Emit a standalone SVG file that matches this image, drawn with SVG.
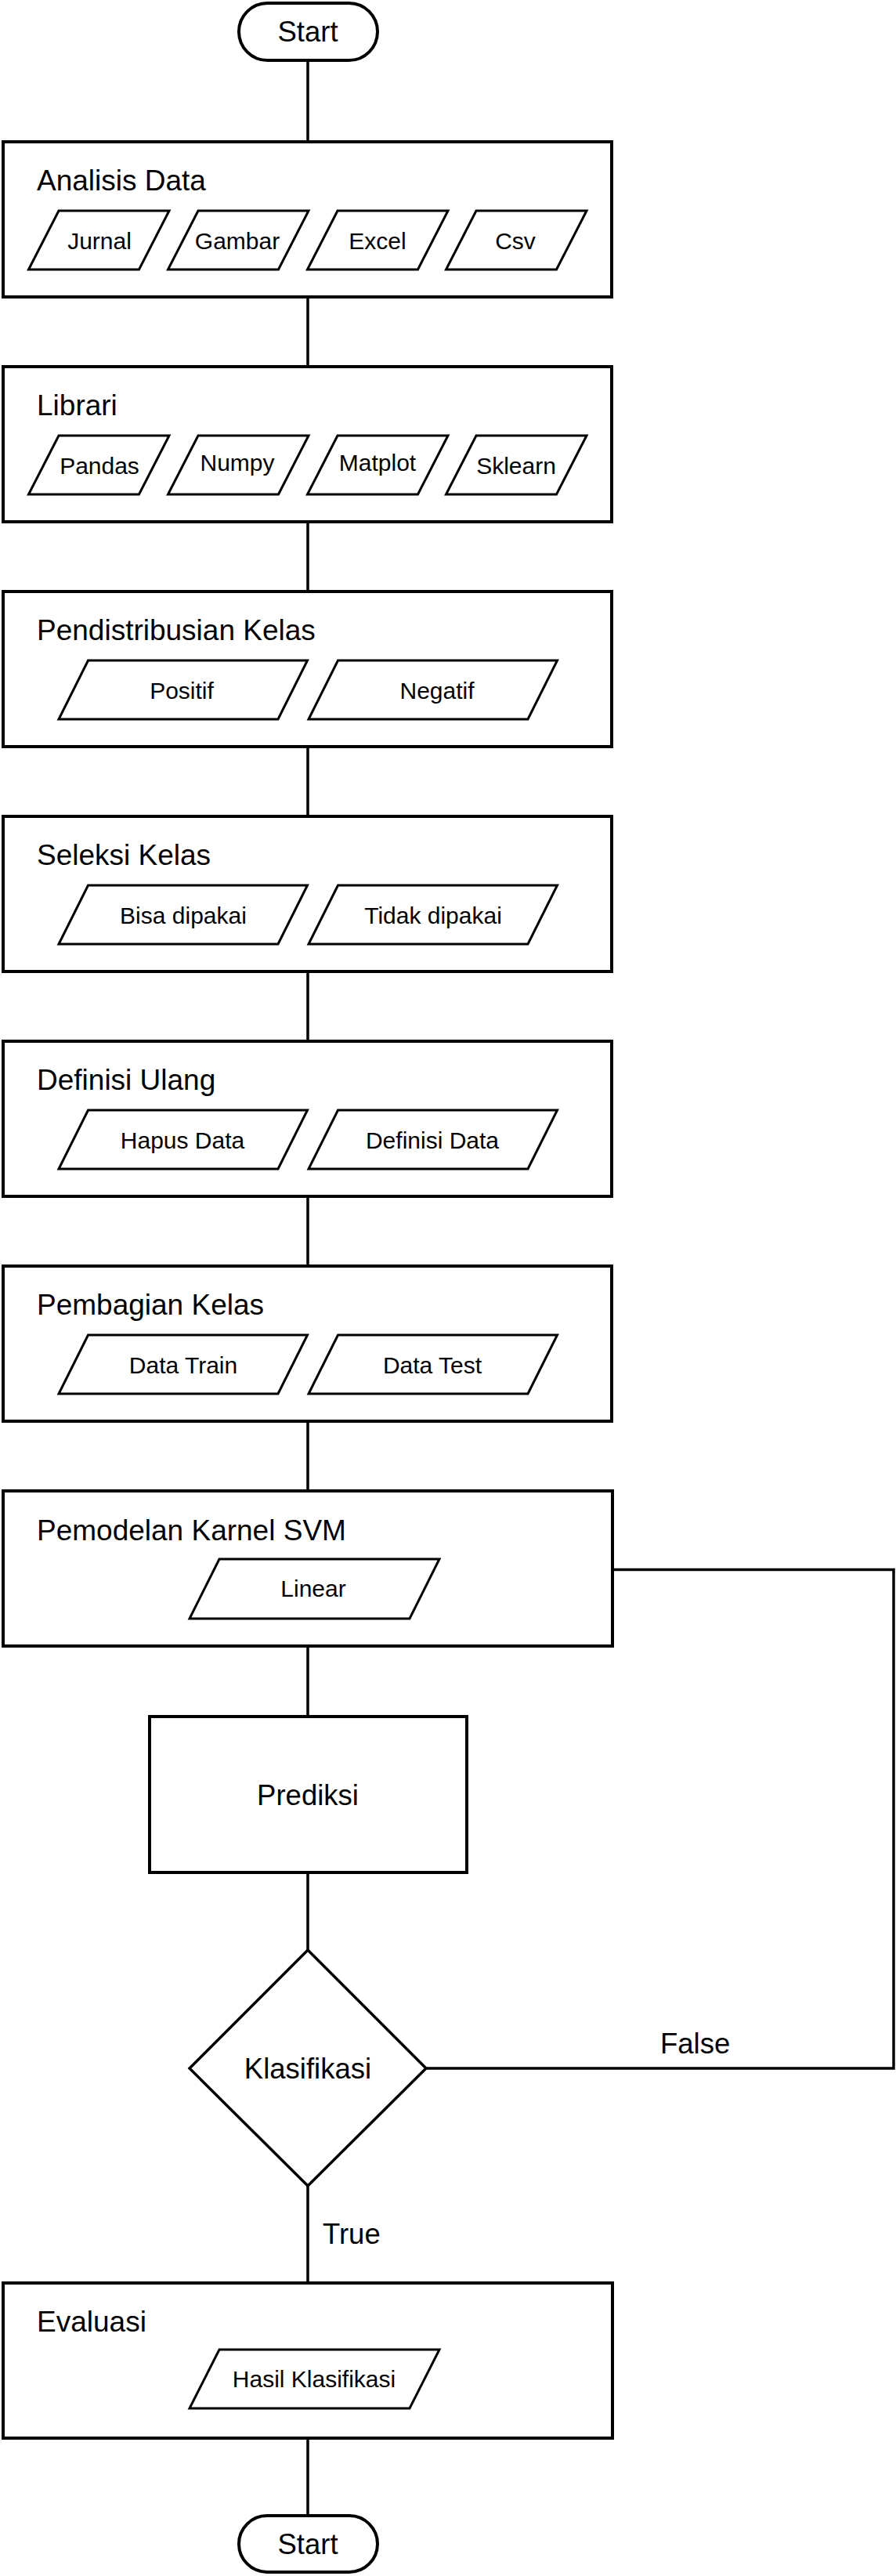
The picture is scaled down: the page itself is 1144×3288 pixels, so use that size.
<svg xmlns="http://www.w3.org/2000/svg" width="1144" height="3288" viewBox="0 0 1144 3288">
<style>
text{font-family:"Liberation Sans",Arial,sans-serif;fill:#000}
.big{font-size:37px}
.mid{font-size:36.5px}
.sm{font-size:30px}
.c{text-anchor:middle}
.box{fill:#fff;stroke:#000;stroke-width:4}
.para{fill:#fff;stroke:#000;stroke-width:3}
.term{fill:#fff;stroke:#000;stroke-width:4}
.dia{fill:#fff;stroke:#000;stroke-width:3.5}
.conn{fill:none;stroke:#000;stroke-width:3.5}
</style>
<rect width="1144" height="3288" fill="#fff"/>
<g id="connectors">
<path class="conn" d="M393 77V181"/>
<path class="conn" d="M393 379V468"/>
<path class="conn" d="M393 666V755"/>
<path class="conn" d="M393 953V1042"/>
<path class="conn" d="M393 1240V1329"/>
<path class="conn" d="M393 1527V1616"/>
<path class="conn" d="M393 1814V1903"/>
<path class="conn" d="M393 2101V2191"/>
<path class="conn" d="M393 2390V2489"/>
<path class="conn" d="M393 2790V2914"/>
<path class="conn" d="M393 3112V3211"/>
<path class="conn" d="M544 2640H1141V2003.5H782"/>
<text class="mid" x="843" y="2621">False</text>
<text class="mid" x="412" y="2864">True</text>
</g>
<g id="start">
<rect class="term" x="305" y="4" width="177" height="73" rx="36.5"/>
<text class="mid c" x="393" y="53">Start</text>
</g>
<g id="analisis-data">
<rect class="box" x="4" y="181" width="777" height="198"/>
<text class="big" x="47" y="243">Analisis Data</text>
<polygon class="para" points="75,269 216,269 177.5,344 36.5,344"/>
<polygon class="para" points="253,269 394,269 355.5,344 214.5,344"/>
<polygon class="para" points="431,269 572,269 533.5,344 392.5,344"/>
<polygon class="para" points="608,269 749,269 710.5,344 569.5,344"/>
<text class="sm c" x="127" y="318">Jurnal</text>
<text class="sm c" x="303" y="318">Gambar</text>
<text class="sm c" x="482" y="318">Excel</text>
<text class="sm c" x="658" y="318">Csv</text>
</g>
<g id="librari">
<rect class="box" x="4" y="468" width="777" height="198"/>
<text class="big" x="47" y="530">Librari</text>
<polygon class="para" points="75,556 216,556 177.5,631 36.5,631"/>
<polygon class="para" points="253,556 394,556 355.5,631 214.5,631"/>
<polygon class="para" points="431,556 572,556 533.5,631 392.5,631"/>
<polygon class="para" points="608,556 749,556 710.5,631 569.5,631"/>
<text class="sm c" x="127" y="605">Pandas</text>
<text class="sm c" x="303" y="601">Numpy</text>
<text class="sm c" x="482" y="601">Matplot</text>
<text class="sm c" x="659" y="605">Sklearn</text>
</g>
<g id="pendistribusian-kelas">
<rect class="box" x="4" y="755" width="777" height="198"/>
<text class="big" x="47" y="817">Pendistribusian Kelas</text>
<polygon class="para" points="112.5,843 392.5,843 355,918 75,918"/>
<polygon class="para" points="431.5,843 711.5,843 674,918 394,918"/>
<text class="sm c" x="232" y="892">Positif</text>
<text class="sm c" x="558" y="892">Negatif</text>
</g>
<g id="seleksi-kelas">
<rect class="box" x="4" y="1042" width="777" height="198"/>
<text class="big" x="47" y="1104">Seleksi Kelas</text>
<polygon class="para" points="112.5,1130 392.5,1130 355,1205 75,1205"/>
<polygon class="para" points="431.5,1130 711.5,1130 674,1205 394,1205"/>
<text class="sm c" x="234" y="1179">Bisa dipakai</text>
<text class="sm c" x="553" y="1179">Tidak dipakai</text>
</g>
<g id="definisi-ulang">
<rect class="box" x="4" y="1329" width="777" height="198"/>
<text class="big" x="47" y="1391">Definisi Ulang</text>
<polygon class="para" points="112.5,1417 392.5,1417 355,1492 75,1492"/>
<polygon class="para" points="431.5,1417 711.5,1417 674,1492 394,1492"/>
<text class="sm c" x="233" y="1466">Hapus Data</text>
<text class="sm c" x="552" y="1466">Definisi Data</text>
</g>
<g id="pembagian-kelas">
<rect class="box" x="4" y="1616" width="777" height="198"/>
<text class="big" x="47" y="1678">Pembagian Kelas</text>
<polygon class="para" points="112.5,1704 392.5,1704 355,1779 75,1779"/>
<polygon class="para" points="431.5,1704 711.5,1704 674,1779 394,1779"/>
<text class="sm c" x="234" y="1753">Data Train</text>
<text class="sm c" x="552" y="1753">Data Test</text>
</g>
<g id="pemodelan-karnel-svm">
<rect class="box" x="4" y="1903" width="778" height="198"/>
<text class="big" x="47" y="1966">Pemodelan Karnel SVM</text>
<polygon class="para" points="280,1990 561,1990 523,2066 242,2066"/>
<text class="sm c" x="400" y="2038">Linear</text>
</g>
<g id="prediksi">
<rect class="box" x="191" y="2191" width="405" height="199"/>
<text class="mid c" x="393" y="2304">Prediksi</text>
</g>
<g id="klasifikasi">
<polygon class="dia" points="393,2489 544,2640 393,2790 242,2640"/>
<text class="mid c" x="393" y="2653">Klasifikasi</text>
</g>
<g id="evaluasi">
<rect class="box" x="4" y="2914" width="778" height="198"/>
<text class="big" x="47" y="2976">Evaluasi</text>
<polygon class="para" points="280,2999 561,2999 523,3074 242,3074"/>
<text class="sm c" x="401" y="3047">Hasil Klasifikasi</text>
</g>
<g id="end">
<rect class="term" x="305" y="3211" width="177" height="72" rx="36"/>
<text class="mid c" x="393" y="3260">Start</text>
</g>
</svg>
